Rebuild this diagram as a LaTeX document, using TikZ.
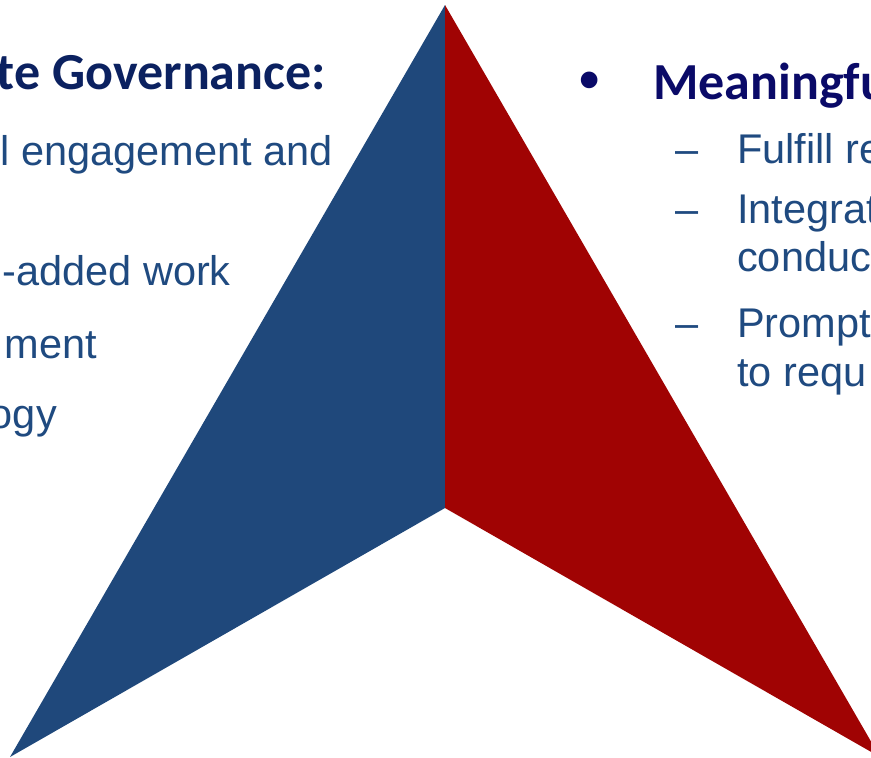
\documentclass[tikz,border=0pt]{standalone}
\usepackage{fontspec}
\setmainfont{Liberation Sans}
\newfontfamily\headfont{Carlito}
\definecolor{arrowblue}{HTML}{1F487B}
\definecolor{arrowred}{HTML}{A00303}
\definecolor{headblue}{HTML}{0B2160}
\definecolor{headnavy}{HTML}{0A0A68}
\definecolor{textblue}{HTML}{1F4A80}
\begin{document}
\begin{tikzpicture}[x=1pt,y=-1pt,
    head/.style={font=\headfont\bfseries\fontsize{52}{52}\selectfont, inner sep=0},
    item/.style={font=\fontsize{41.5}{48}\selectfont, text=textblue, inner sep=0}]
    \useasboundingbox (0,0) rectangle (871,758);
    \clip (0,0) rectangle (871,758);
    % arrowhead, split down the middle
    \fill[arrowblue] (445,5) -- (445,508) -- (10,757) -- cycle;
    \fill[arrowred] (445,5) -- (880,757) -- (445,508) -- cycle;
    % left column
    \node[head, text=headblue, anchor=base east] (govhead) at (326,89) {te Governance:};
    \node[item, anchor=base east] (engage) at (333,165) {l engagement and};
    \node[item, anchor=base east] (added) at (231,285) {-added work};
    \node[item, anchor=base east] (ment) at (97,358) {ment};
    \node[item, anchor=base east] (ogy) at (57,428) {ogy};
    % right column
    \node[head, text=headnavy] (bullet) at (590,86) {\fontspec{Liberation Sans}\fontsize{58}{58}\selectfont\textbullet};
    \node[head, text=headnavy, anchor=base west] (meanhead) at (653,99) {Meaningfu};
    \foreach \y in {163,223,337} {
        \node[item, anchor=base west] (dash\y) at (675,\y) {--};
    }
    \node[item, anchor=base west] (fulfill) at (737,163) {Fulfill re};
    \node[item, anchor=base west] (integr) at (737,223) {Integrat};
    \node[item, anchor=base west] (conduc) at (737,271) {conduc};
    \node[item, anchor=base west] (prompt) at (737,337) {Prompt};
    \node[item, anchor=base west] (toreq) at (737,386) {to requ};
\end{tikzpicture}
\end{document}
